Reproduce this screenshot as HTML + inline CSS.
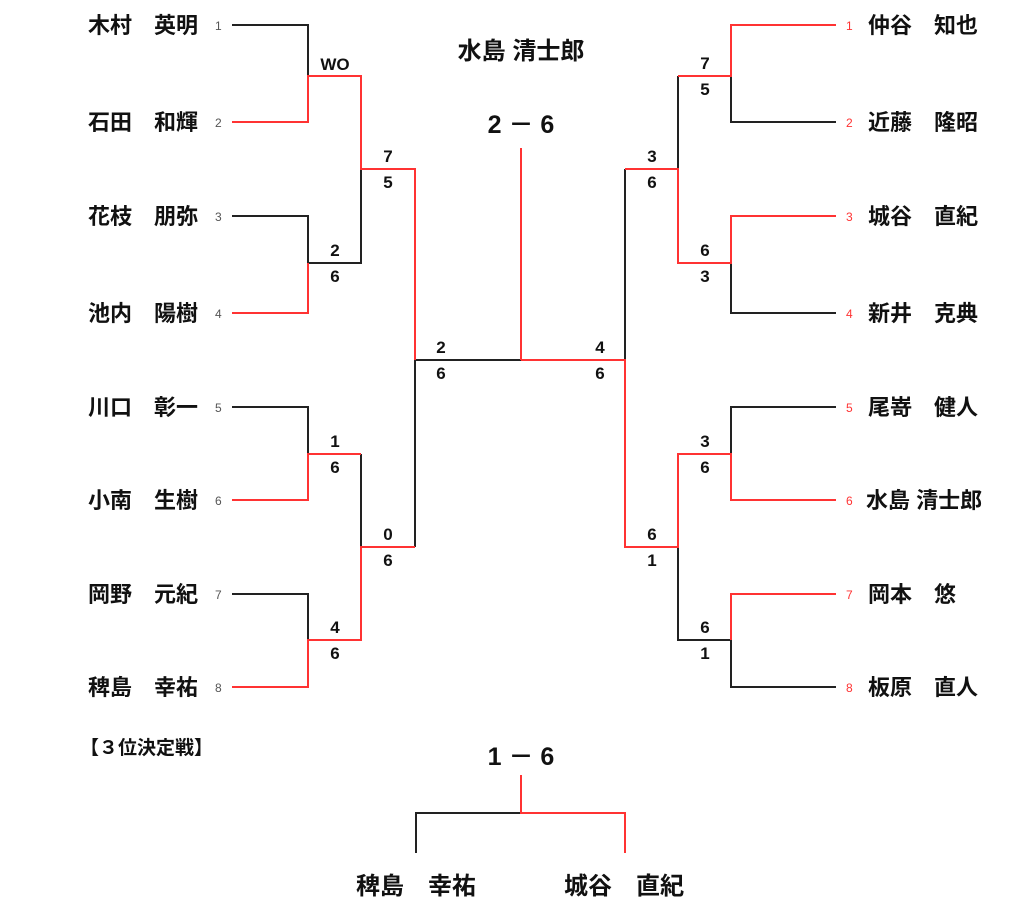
<!DOCTYPE html>
<html><head><meta charset="utf-8"><style>
body{margin:0;background:#fff;}
svg text{font-family:"Liberation Sans","Noto Sans CJK JP",sans-serif;}
.n{font-size:22px;font-weight:bold;fill:#111;}
.b{font-size:24px;font-weight:bold;fill:#111;}
.s{font-size:17px;font-weight:bold;fill:#111;text-anchor:middle;}
.k{font-size:12px;fill:#555;}
.kr{font-size:12px;fill:#f33;}
</style></head><body>
<svg width="1024" height="916" viewBox="0 0 1024 916" xmlns="http://www.w3.org/2000/svg">
<g fill="none" stroke-width="2">
<path stroke="#222" d="M232 25H308V76 M232 216H308V263H361V169 M232 407H308V454 M361 454V547 M232 594H308V640 M415 360V547 M415 360H521"/>
<path stroke="#f33" d="M232 122H308V76H361V169H415V360 M232 313H308V263 M232 500H308V454H361 M232 687H308V640H361V547H415"/>
<path stroke="#222" d="M836 122H731V76 M678 76V169 M836 313H731V263 M625 169V360 M836 407H731V454 M836 687H731V640H678V547"/>
<path stroke="#f33" d="M836 25H731V76H678 M836 216H731V263H678V169H625 M836 500H731V454H678V547H625V360H521 M836 594H731V640 M521 148V360"/>
<path stroke="#222" d="M521 813H416V853"/>
<path stroke="#f33" d="M521 775V813H625V853"/>
</g>
<g class="n">
<text x="88" y="33">木村　英明</text>
<text x="88" y="130">石田　和輝</text>
<text x="88" y="224">花枝　朋弥</text>
<text x="88" y="321">池内　陽樹</text>
<text x="88" y="415">川口　彰一</text>
<text x="88" y="508">小南　生樹</text>
<text x="88" y="602">岡野　元紀</text>
<text x="88" y="695">稗島　幸祐</text>
<text x="868" y="33">仲谷　知也</text>
<text x="868" y="130">近藤　隆昭</text>
<text x="868" y="224">城谷　直紀</text>
<text x="868" y="321">新井　克典</text>
<text x="868" y="415">尾嵜　健人</text>
<text x="866" y="508">水島 清士郎</text>
<text x="868" y="602">岡本　悠</text>
<text x="868" y="695">板原　直人</text>
</g>
<g class="b">
<text x="356" y="894">稗島　幸祐</text>
<text x="564" y="894">城谷　直紀</text>
</g>
<g class="k">
<text x="215" y="30">1</text><text x="215" y="127">2</text><text x="215" y="221">3</text><text x="215" y="318">4</text>
<text x="215" y="412">5</text><text x="215" y="505">6</text><text x="215" y="599">7</text><text x="215" y="692">8</text>
</g>
<g class="kr">
<text x="846" y="30">1</text><text x="846" y="127">2</text><text x="846" y="221">3</text><text x="846" y="318">4</text>
<text x="846" y="412">5</text><text x="846" y="505">6</text><text x="846" y="599">7</text><text x="846" y="692">8</text>
</g>
<g class="s">
<text x="335" y="70">WO</text>
<text x="335" y="256">2</text><text x="335" y="282">6</text>
<text x="335" y="447">1</text><text x="335" y="473">6</text>
<text x="335" y="633">4</text><text x="335" y="659">6</text>
<text x="388" y="162">7</text><text x="388" y="188">5</text>
<text x="388" y="540">0</text><text x="388" y="566">6</text>
<text x="441" y="353">2</text><text x="441" y="379">6</text>
<text x="600" y="353">4</text><text x="600" y="379">6</text>
<text x="652" y="162">3</text><text x="652" y="188">6</text>
<text x="652" y="540">6</text><text x="652" y="566">1</text>
<text x="705" y="69">7</text><text x="705" y="95">5</text>
<text x="705" y="256">6</text><text x="705" y="282">3</text>
<text x="705" y="447">3</text><text x="705" y="473">6</text>
<text x="705" y="633">6</text><text x="705" y="659">1</text>
</g>
<text x="521" y="59" text-anchor="middle" style="font-size:24px;font-weight:bold;fill:#111">水島 清士郎</text>
<text x="521" y="133" text-anchor="middle" style="font-size:25px;font-weight:bold;fill:#111">2 － 6</text>
<text x="521" y="765" text-anchor="middle" style="font-size:25px;font-weight:bold;fill:#111">1 － 6</text>
<text x="80" y="754" style="font-size:19px;font-weight:bold;fill:#111">【３位決定戦】</text>
</svg>
</body></html>
